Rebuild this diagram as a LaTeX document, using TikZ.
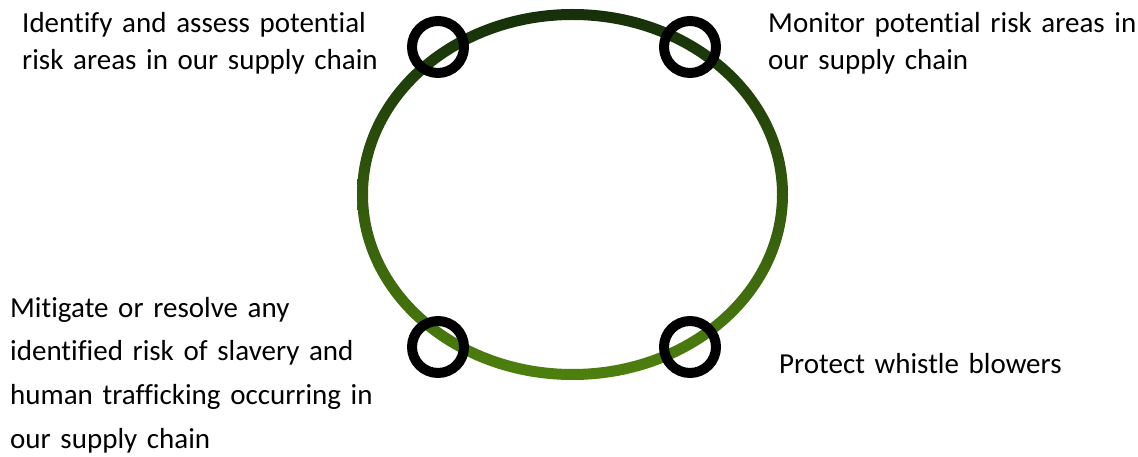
\documentclass[tikz,border=0pt]{standalone}
\usepackage{fontspec}
\setmainfont{Carlito}[Ligatures=NoCommon]
\definecolor{ringtop}{HTML}{16300A}
\definecolor{ringbot}{HTML}{4E800E}
\tikzset{
  marker/.style={circle, draw=black, line width=10pt, minimum size=52pt, inner sep=0pt},
  label/.style={anchor=base west, inner sep=0pt, align=left, font=\fontsize{29}{37}\selectfont},
  labelwide/.style={label, font=\fontsize{29}{43.7}\selectfont}
}
\begin{document}
\begin{tikzpicture}[x=1pt, y=-1pt]
\useasboundingbox[fill=white] (0,0) rectangle (1138,457);
\coordinate (c) at (572.5,194.5);
\path[top color=ringtop, bottom color=ringbot, even odd rule]
  (c) ellipse [x radius=215.5, y radius=185.5]
  (c) ellipse [x radius=204.5, y radius=174.5];
\node[marker] (tl) at (438,47) {};
\node[marker] (tr) at (690,47) {};
\node[marker] (bl) at (438,347) {};
\node[marker] (br) at (690,347) {};
\node[label, text width=380pt] (ttl) at (22,33) {\mbox{Identify and assess potential}\\\mbox{risk areas in our supply chain}};
\node[label, text width=369pt] (ttr) at (768,33) {\mbox{Monitor potential risk areas in}\\\mbox{our supply chain}};
\node[labelwide, text width=380pt] (tbl) at (10,317) {\mbox{Mitigate or resolve any}\\\mbox{identified risk of slavery and}\\\mbox{human trafficking occurring in}\\\mbox{our supply chain}};
\node[label, text width=300pt] (tbr) at (779,373) {Protect whistle blowers};
\end{tikzpicture}
\end{document}
